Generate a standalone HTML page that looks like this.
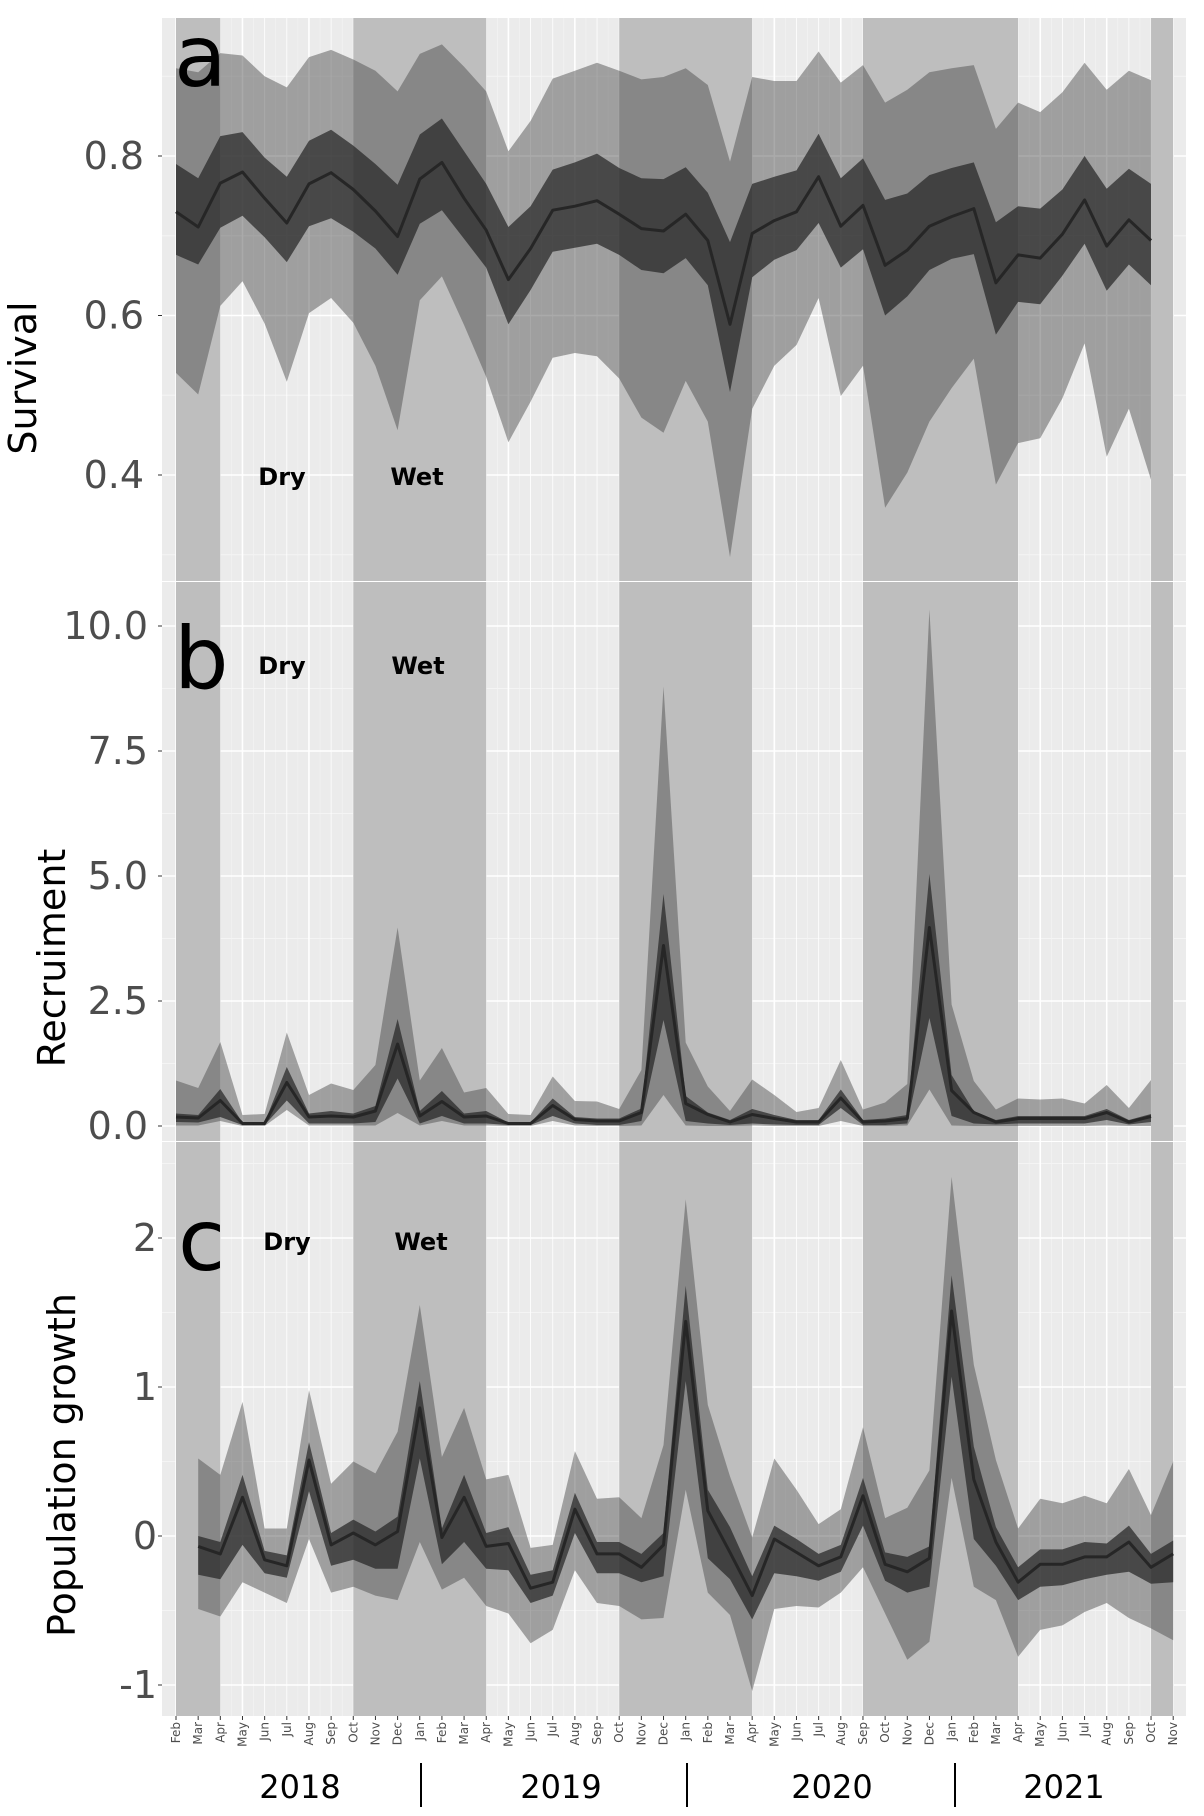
<!DOCTYPE html>
<html><head><meta charset="utf-8"><style>
body{margin:0;background:#fff}
svg{display:block}
text{font-family:"DejaVu Sans","Liberation Sans",sans-serif}
</style></head><body>
<svg id="fig" width="1204" height="1816" viewBox="0 0 1204 1816" xmlns="http://www.w3.org/2000/svg"></svg>
<script>
const months = ["Feb","Mar","Apr","May","Jun","Jul","Aug","Sep","Oct","Nov","Dec","Jan","Feb","Mar","Apr","May","Jun","Jul","Aug","Sep","Oct","Nov","Dec","Jan","Feb","Mar","Apr","May","Jun","Jul","Aug","Sep","Oct","Nov","Dec","Jan","Feb","Mar","Apr","May","Jun","Jul","Aug","Sep","Oct","Nov"];
const years = ["2018","2019","2020","2021"];
const wetStart = [0,8,20,31,44];
const wetEnd = [2,14,26,38,45];
// Panel a: survival (month index 0..44)
const surMean = [0.730,0.711,0.766,0.780,0.747,0.716,0.765,0.779,0.758,0.731,0.699,0.771,0.792,0.747,0.707,0.645,0.684,0.732,0.737,0.744,0.727,0.709,0.706,0.727,0.694,0.589,0.703,0.719,0.730,0.774,0.712,0.738,0.663,0.682,0.712,0.724,0.734,0.641,0.676,0.672,0.702,0.745,0.687,0.720,0.694];
const surInHi = [0.790,0.772,0.825,0.830,0.798,0.774,0.819,0.833,0.813,0.790,0.764,0.827,0.847,0.806,0.765,0.711,0.737,0.783,0.792,0.803,0.785,0.772,0.771,0.786,0.754,0.692,0.765,0.774,0.782,0.828,0.772,0.797,0.745,0.753,0.776,0.785,0.792,0.717,0.737,0.734,0.758,0.800,0.759,0.784,0.765];
const surInLo = [0.676,0.664,0.710,0.725,0.698,0.667,0.712,0.722,0.705,0.684,0.651,0.715,0.732,0.696,0.660,0.589,0.632,0.680,0.685,0.690,0.676,0.657,0.653,0.672,0.638,0.504,0.648,0.670,0.682,0.716,0.660,0.683,0.600,0.624,0.657,0.671,0.677,0.576,0.617,0.614,0.650,0.690,0.631,0.664,0.638];
const surOutHi = [0.910,0.905,0.929,0.926,0.900,0.886,0.924,0.933,0.921,0.907,0.881,0.928,0.940,0.912,0.881,0.806,0.844,0.897,0.907,0.917,0.907,0.896,0.899,0.910,0.889,0.793,0.899,0.894,0.894,0.931,0.892,0.914,0.867,0.883,0.905,0.910,0.914,0.834,0.867,0.855,0.880,0.917,0.883,0.907,0.895];
const surOutLo = [0.528,0.501,0.612,0.643,0.590,0.517,0.603,0.622,0.591,0.537,0.456,0.619,0.649,0.588,0.523,0.441,0.492,0.547,0.553,0.549,0.521,0.472,0.453,0.518,0.467,0.297,0.483,0.537,0.563,0.622,0.499,0.537,0.359,0.403,0.467,0.509,0.546,0.388,0.440,0.446,0.496,0.565,0.423,0.483,0.394];
// Panel b: recruitment (month index 0..44)
const recMean = [0.18,0.16,0.51,0.05,0.05,0.87,0.18,0.20,0.18,0.30,1.64,0.20,0.49,0.18,0.20,0.05,0.05,0.41,0.13,0.10,0.10,0.27,3.61,0.45,0.23,0.08,0.23,0.15,0.08,0.08,0.56,0.08,0.10,0.15,3.97,0.71,0.27,0.08,0.15,0.15,0.15,0.15,0.27,0.08,0.19];
const recInHi = [0.25,0.22,0.74,0.07,0.07,1.18,0.25,0.30,0.25,0.40,2.14,0.30,0.70,0.25,0.30,0.07,0.07,0.55,0.18,0.15,0.15,0.35,4.64,0.60,0.27,0.12,0.34,0.22,0.12,0.12,0.73,0.12,0.15,0.22,5.04,1.02,0.30,0.12,0.20,0.20,0.20,0.20,0.34,0.12,0.24];
const recInLo = [0.08,0.07,0.18,0.02,0.02,0.51,0.05,0.05,0.05,0.08,0.95,0.05,0.20,0.05,0.05,0.02,0.02,0.20,0.05,0.02,0.02,0.10,2.12,0.10,0.05,0.02,0.05,0.03,0.02,0.02,0.36,0.02,0.02,0.05,2.16,0.20,0.05,0.03,0.05,0.05,0.05,0.05,0.12,0.03,0.08];
const recOutHi = [0.91,0.76,1.68,0.22,0.24,1.87,0.62,0.85,0.72,1.22,3.97,0.91,1.56,0.67,0.76,0.24,0.22,0.99,0.50,0.49,0.34,1.12,8.79,1.67,0.79,0.30,0.93,0.62,0.28,0.36,1.32,0.33,0.47,0.84,10.33,2.43,0.90,0.33,0.55,0.53,0.55,0.45,0.82,0.36,0.92];
const recOutLo = [0.01,0.01,0.10,0,0,0.32,0.01,0.01,0.01,0.01,0.26,0.01,0.10,0.01,0.01,0,0,0.10,0.01,0,0,0.01,0.62,0.01,0,0,0.01,0,0,0,0.10,0,0,0.01,0.73,0.01,0,0,0,0,0,0,0.01,0,0];
// Panel c: population growth (month index 1..45)
const popMean = [-0.07,-0.12,0.26,-0.16,-0.20,0.51,-0.06,0.02,-0.06,0.03,0.86,-0.01,0.26,-0.07,-0.05,-0.35,-0.31,0.18,-0.12,-0.12,-0.21,-0.06,1.44,0.17,-0.11,-0.40,-0.02,-0.11,-0.20,-0.14,0.27,-0.19,-0.24,-0.15,1.51,0.38,-0.04,-0.31,-0.19,-0.19,-0.14,-0.14,-0.04,-0.21,-0.12];
const popInHi = [0.00,-0.04,0.41,-0.10,-0.13,0.63,0.02,0.11,0.03,0.13,1.04,0.05,0.41,0.02,0.06,-0.26,-0.23,0.29,-0.04,-0.04,-0.12,0.02,1.68,0.31,0.06,-0.27,0.07,-0.02,-0.12,-0.06,0.39,-0.11,-0.14,-0.07,1.75,0.60,0.06,-0.21,-0.09,-0.09,-0.04,-0.05,0.07,-0.12,-0.03];
const popInLo = [-0.26,-0.29,-0.06,-0.25,-0.28,0.30,-0.20,-0.16,-0.22,-0.22,0.52,-0.19,-0.04,-0.22,-0.23,-0.45,-0.40,0.02,-0.25,-0.25,-0.31,-0.27,1.04,-0.15,-0.29,-0.56,-0.25,-0.27,-0.30,-0.24,0.07,-0.30,-0.38,-0.34,1.07,-0.02,-0.20,-0.43,-0.34,-0.33,-0.29,-0.26,-0.24,-0.32,-0.31];
const popOutHi = [0.52,0.41,0.90,0.05,0.05,0.98,0.35,0.50,0.42,0.70,1.55,0.53,0.86,0.38,0.41,-0.08,-0.06,0.57,0.25,0.26,0.12,0.61,2.26,0.88,0.40,-0.01,0.52,0.31,0.08,0.18,0.73,0.12,0.19,0.44,2.41,1.15,0.51,0.05,0.25,0.22,0.27,0.22,0.45,0.14,0.50];
const popOutLo = [-0.49,-0.54,-0.31,-0.38,-0.45,-0.02,-0.38,-0.34,-0.40,-0.43,-0.04,-0.36,-0.28,-0.47,-0.52,-0.72,-0.63,-0.23,-0.45,-0.47,-0.56,-0.55,0.31,-0.38,-0.53,-1.04,-0.49,-0.47,-0.48,-0.38,-0.21,-0.52,-0.83,-0.71,0.39,-0.34,-0.43,-0.81,-0.63,-0.60,-0.51,-0.45,-0.55,-0.62,-0.70];
const surTicks = [0.4,0.6,0.8];
const surTickLabels = ["0.4","0.6","0.8"];
const recTicks = [0,2.5,5,7.5,10];
const recTickLabels = ["0.0","2.5","5.0","7.5","10.0"];
const popTicks = [-1,0,1,2];
const popTickLabels = ["-1","0","1","2"];

const NS="http://www.w3.org/2000/svg";
const svg=document.getElementById('fig');
function mk(tag,attrs,parent){const e=document.createElementNS(NS,tag);for(const k in attrs)e.setAttribute(k,attrs[k]);(parent||svg).appendChild(e);return e;}
const L=162,R=1186;
const xOf=i=>176+22.16*i;

function panel(cfg){
  const g=mk('g',{});
  
  
  const yOf=v=>cfg.y0+(v-cfg.v0)*cfg.k;
  mk('rect',{x:L,y:cfg.top,width:R-L,height:cfg.bot-cfg.top,fill:'#EBEBEB'},g);
  for(let j=0;j<cfg.ticks.length;j++){
    const t=cfg.ticks[j];
    const step=cfg.ticks[1]-cfg.ticks[0];
    [t-step/2,t+step/2].forEach(m=>{const y=yOf(m);if(y>cfg.top&&y<cfg.bot)mk('line',{x1:L,x2:R,y1:y,y2:y,stroke:'#F4F4F4','stroke-width':1},g);});
  }
  for(let i=0;i<months.length;i++){const x=xOf(i);mk('line',{x1:x,x2:x,y1:cfg.top,y2:cfg.bot,stroke:'#fff','stroke-width':(i%3===0?1.6:0.8)},g);
    if(i<months.length-1){const xm=x+11.08;mk('line',{x1:xm,x2:xm,y1:cfg.top,y2:cfg.bot,stroke:'#F4F4F4','stroke-width':0.6},g);}}
  cfg.ticks.forEach((t,j)=>{const y=yOf(t);mk('line',{x1:L,x2:R,y1:y,y2:y,stroke:'#fff','stroke-width':1.6},g);
    mk('line',{x1:L-4,x2:L,y1:y,y2:y,stroke:'#333','stroke-width':1},g);
    const tl=mk('text',{x:cfg.labR,y:y+13,'text-anchor':'end','font-size':38,fill:'#4D4D4D'},g);tl.textContent=cfg.tickLabels[j];
    
    });
  for(let b=0;b<wetStart.length;b++){
    const r=mk('rect',{x:xOf(wetStart[b]),y:cfg.top,width:xOf(wetEnd[b])-xOf(wetStart[b]),height:cfg.bot-cfg.top,fill:'#BEBEBE'},g);
    
    
  }
  const area=(hi,lo,fill,nm)=>{let d='';hi.forEach((v,i)=>{d+=(i?'L':'M')+xOf(i+cfg.off).toFixed(1)+','+yOf(v).toFixed(1);});
    for(let i=lo.length-1;i>=0;i--)d+='L'+xOf(i+cfg.off).toFixed(1)+','+yOf(lo[i]).toFixed(1);
    const p=mk('path',{d:d+'Z',fill:fill},g);
    
    };
  area(cfg.outHi,cfg.outLo,'rgba(74,74,74,0.47)','outer-interval-band');
  area(cfg.inHi,cfg.inLo,'rgba(37,37,37,0.71)','inner-interval-band');
  let d='';cfg.mean.forEach((v,i)=>{d+=(i?'L':'M')+xOf(i+cfg.off).toFixed(1)+','+yOf(v).toFixed(1);});
  const ln=mk('path',{d:d,fill:'none',stroke:'#262626','stroke-width':3,'stroke-linejoin':'round'},g);
  
  
  const t=mk('text',{x:cfg.titleX,y:cfg.titleY,'text-anchor':'middle','font-size':38,fill:'#000',transform:`rotate(-90 ${cfg.titleX} ${cfg.titleY})`,'dominant-baseline':'central'},g);
  t.textContent=cfg.title;
  
  
  const lt=mk('text',{x:cfg.letX,y:cfg.letY,'font-size':86,fill:'#000'},g);lt.textContent=cfg.letter;
  
  
  const dr=mk('text',{x:cfg.dryX,y:cfg.dwY,'text-anchor':'middle','font-size':24,'font-weight':'bold',fill:'#000'},g);dr.textContent='Dry';
  
  
  const we=mk('text',{x:cfg.wetX,y:cfg.dwY,'text-anchor':'middle','font-size':24,'font-weight':'bold',fill:'#000'},g);we.textContent='Wet';
  
  
}
panel({name:'survival',top:18,bot:581,y0:156,v0:0.8,k:-797.5,ticks:surTicks,tickLabels:surTickLabels,labR:144,mean:surMean,inHi:surInHi,inLo:surInLo,outHi:surOutHi,outLo:surOutLo,off:0,title:'Survival',titleX:23,titleY:378,letter:'a',letX:174,letY:86,dryX:282,wetX:417,dwY:485});
panel({name:'recruitment',top:582,bot:1141,y0:1126,v0:0,k:-50,ticks:recTicks,tickLabels:recTickLabels,labR:148,mean:recMean,inHi:recInHi,inLo:recInLo,outHi:recOutHi,outLo:recOutLo,off:0,title:'Recruiment',titleX:52,titleY:958,letter:'b',letX:174,letY:688,dryX:282,wetX:418,dwY:674});
panel({name:'population-growth',top:1142,bot:1716,y0:1536,v0:0,k:-149,ticks:popTicks,tickLabels:popTickLabels,labR:157,mean:popMean,inHi:popInHi,inLo:popInLo,outHi:popOutHi,outLo:popOutLo,off:1,title:'Population growth',titleX:62,titleY:1465,letter:'c',letX:178,letY:1270,dryX:287,wetX:421,dwY:1250});

months.forEach((m,i)=>{const x=xOf(i);
  mk('line',{x1:x,x2:x,y1:1716,y2:1720,stroke:'#333','stroke-width':1});
  const t=mk('text',{x:x+4,y:1722,'text-anchor':'end','font-size':12,fill:'#4D4D4D',transform:`rotate(-90 ${x+4} 1722)`});
  t.textContent=m;
  
  });
[421,687,955].forEach(x=>{const s=mk('line',{x1:x,x2:x,y1:1763,y2:1807,stroke:'#000','stroke-width':2});
  
  });
const yx=[300,561,832,1064];
years.forEach((y,i)=>{const t=mk('text',{x:yx[i],y:1798,'text-anchor':'middle','font-size':32,fill:'#000','font-family':'"DejaVu Sans Condensed","DejaVu Sans",sans-serif'});t.textContent=y;
  
  });
</script>
</body></html>
